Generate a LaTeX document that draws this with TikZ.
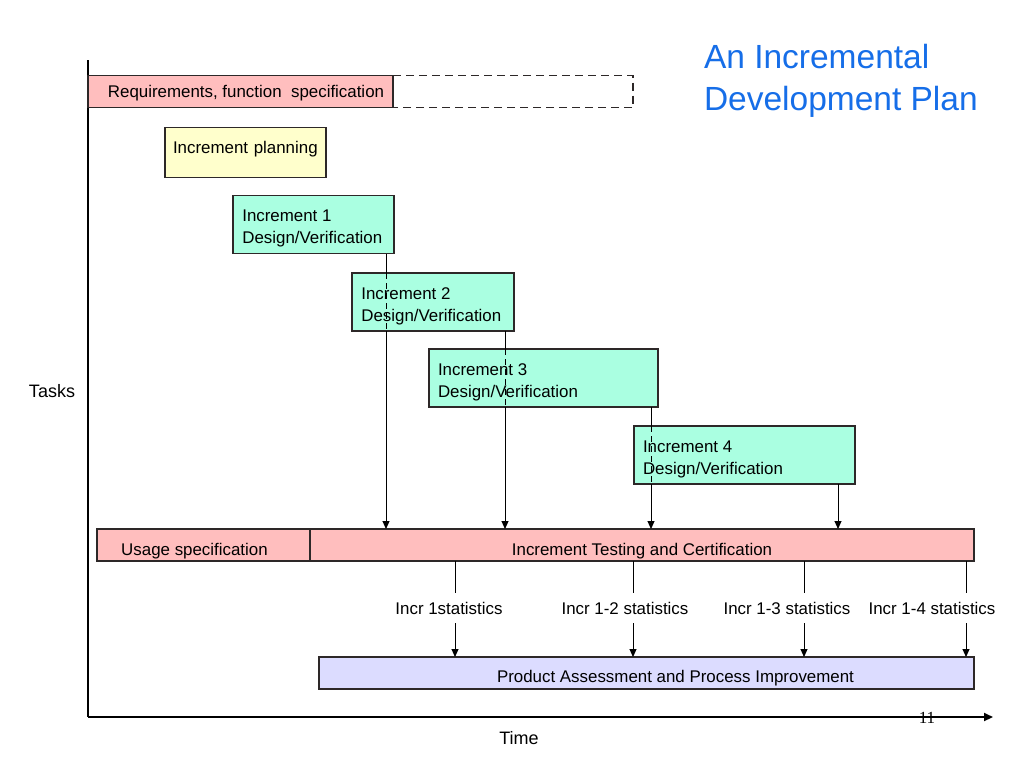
\documentclass[tikz,border=0pt]{standalone}
\usepackage{fontspec}
\setmainfont{Liberation Sans}
\newfontfamily\serifnum{Liberation Serif}
\usetikzlibrary{arrows.meta,calc}
\definecolor{reqpink}{RGB}{255,190,190}
\definecolor{planyellow}{RGB}{255,255,204}
\definecolor{incgreen}{RGB}{170,255,225}
\definecolor{prodlav}{RGB}{220,220,255}
\definecolor{titleblue}{RGB}{22,110,232}
\definecolor{edge}{RGB}{45,40,40}
\begin{document}
\begin{tikzpicture}[x=1pt,y=-1pt,
  every node/.style={font=\fontsize{16.9}{21.7}\selectfont, inner sep=0pt, outer sep=0pt},
  boxbase/.style={draw=edge, line width=1.4pt, rectangle},
  reqbox/.style={boxbase, fill=reqpink},
  planbox/.style={boxbase, fill=planyellow},
  incbox/.style={boxbase, fill=incgreen},
  inctext/.style={anchor=north west, align=left},
  prodbox/.style={boxbase, fill=prodlav},
  arr/.style={line width=1pt, -{Triangle[length=8pt,width=7pt]}},
  plain/.style={line width=1pt},
  thru/.style={line width=1pt, dash pattern=on 6pt off 4pt},
  axis/.style={line width=2pt}]
\useasboundingbox (0,0) rectangle (1024,768);

% title
\node[anchor=north west, text=titleblue, align=left, font=\fontsize{33.5}{42}\selectfont] (title) at (704,44.6) {An Incremental\\Development Plan};

% axes
\coordinate (origin) at (88,717);
\coordinate (ytop) at (88,60);
\coordinate (xend) at (993,717);
\draw[axis] (ytop) -- (origin);
\draw[axis, -{Triangle[length=9pt,width=8pt]}] (origin) -- (xend);
\node[font=\fontsize{18}{22}\selectfont] (tasks) at (52,391) {Tasks};
\node[font=\fontsize{18}{22}\selectfont] (time) at (519,738) {Time};
\node[font=\serifnum\fontsize{17}{20}\selectfont] (pagenum) at (927,718) {11};

% requirements
\node[reqbox, minimum width=305pt, minimum height=32pt, text height=13pt, text depth=1.8pt] (req) at (240.5,91.7) {\hspace*{11pt}Requirements, function\ \ specification};
\draw[draw=edge, line width=1.4pt, dash pattern=on 8pt off 5pt] (req.north east) -- (633,75.7) -- (633,107.7) -- (req.south east);

% planning
\node[planbox, minimum height=50pt, text width=145pt, inner xsep=8pt, align=left, text height=7.2pt, text depth=6pt] (plan) at (245.5,152.7) {Increment planning};

% increments
\node[incbox, minimum width=161pt, minimum height=58pt] (i1) at (313.5,224.5) {};
\node[inctext] (t1) at (242.3,210.3) {Increment 1\\Design/Verification};
\node[incbox, minimum width=162pt, minimum height=58pt] (i2) at (433,302) {};
\node[inctext] (t2) at (361.3,287.8) {Increment 2\\Design/Verification};
\node[incbox, minimum width=229pt, minimum height=58pt] (i3) at (543.5,378) {};
\node[inctext] (t3) at (438,363.8) {Increment 3\\Design/Verification};
\node[incbox, minimum width=221pt, minimum height=58pt] (i4) at (744.5,455) {};
\node[inctext] (t4) at (643,440.8) {Increment 4\\Design/Verification};

% usage / testing
\node[reqbox, minimum width=213pt, minimum height=32pt, text height=20pt, text depth=0pt] (usage) at (203.5,545) {\hspace*{-18pt}Usage specification};
\node[reqbox, minimum width=664pt, minimum height=32pt, text height=20pt, text depth=0pt] (test) at (642,545) {Increment Testing and Certification};

% product assessment
\node[prodbox, minimum width=655pt, minimum height=32pt, text height=19.4pt, text depth=0pt] (prod) at (646.5,673) {\hspace*{58pt}Product Assessment and Process Improvement};

% increment -> testing connectors
\coordinate (a1) at (386,529);
\coordinate (a2) at (505,529);
\coordinate (a3) at (651,529);
\coordinate (a4) at (838,529);
\draw[plain] (i1.south -| a1) -- (i2.north -| a1);
\draw[thru] (i2.north -| a1) -- (i2.south -| a1);
\draw[arr] (i2.south -| a1) -- (test.north -| a1);
\draw[plain] (i2.south -| a2) -- (i3.north -| a2);
\draw[thru] (i3.north -| a2) -- (i3.south -| a2);
\draw[arr] (i3.south -| a2) -- (test.north -| a2);
\draw[plain] (i3.south -| a3) -- (i4.north -| a3);
\draw[thru] (i4.north -| a3) -- (i4.south -| a3);
\draw[arr] (i4.south -| a3) -- (test.north -| a3);
\draw[arr] (i4.south -| a4) -- (test.north -| a4);

% statistics connectors
\node[anchor=base] (s1) at (449,614.3) {Incr 1statistics};
\node[anchor=base] (s2) at (625,614.3) {Incr 1-2 statistics};
\node[anchor=base] (s3) at (787,614.3) {Incr 1-3 statistics};
\node[anchor=base] (s4) at (932,614.3) {Incr 1-4 statistics};
\foreach \x/\n in {455/1,633/2,804/3,966/4}{
  \coordinate (u\n) at (\x,592.5);
  \coordinate (d\n) at (\x,623);
  \draw[plain, line width=0.8pt] (test.south -| u\n) -- (u\n);
  \draw[arr] (d\n) -- (prod.north -| d\n);
}
\end{tikzpicture}
\end{document}
